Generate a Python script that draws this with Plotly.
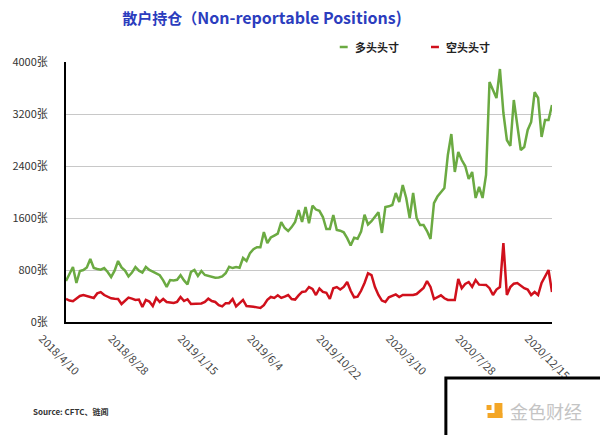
import pandas as pd
import plotly.graph_objects as go

# weekly COT data, 2018/4/10 .. 2020/12/15
dates = pd.date_range("2018-04-10", periods=141, freq="7D")

long_positions = [
    630, 750, 846, 600, 785, 800, 840, 970, 830, 815,
    805, 830, 770, 692, 790, 938, 840, 790, 700, 760,
    846, 790, 760, 846, 800, 775, 750, 720, 640, 540,
    646, 640, 650, 720, 640, 580, 770, 800, 708, 785,
    723, 705, 692, 680, 685, 700, 750, 850, 830, 846,
    835, 985, 940, 1060, 1120, 1150, 1150, 1384, 1215, 1300,
    1330, 1360, 1538, 1446, 1400, 1460, 1540, 1723, 1540, 1770,
    1520, 1790, 1730, 1710, 1615, 1430, 1430, 1646, 1415, 1405,
    1380, 1290, 1177, 1296, 1280, 1390, 1650, 1500, 1550, 1620,
    1690, 1370, 1770, 1780, 1800, 1985, 1846, 2108, 1908, 1600,
    1985, 1600, 1492, 1492, 1400, 1277, 1830, 1930, 2000, 2062,
    2570, 2892, 2308, 2615, 2492, 2400, 2200, 2308, 1908, 2077,
    1908, 2262, 3692, 3570, 3446, 3892, 3215, 2800, 2708, 3415,
    3030, 2646, 2692, 2954, 3077, 3538, 3446, 2846, 3108, 3108,
    3338,
]

short_positions = [
    354, 330, 320, 365, 400, 415, 400, 390, 370, 440,
    460, 415, 385, 365, 358, 354, 277, 330, 375, 360,
    340, 345, 230, 340, 315, 246, 370, 308, 354, 308,
    295, 292, 310, 385, 323, 350, 277, 277, 277, 285,
    308, 360, 323, 308, 260, 240, 290, 290, 354, 240,
    290, 340, 246, 246, 235, 225, 215, 260, 340, 385,
    370, 410, 370, 390, 415, 354, 345, 410, 462, 470,
    538, 510, 415, 515, 462, 450, 354, 520, 538, 500,
    540, 615, 480, 380, 390, 480, 600, 750, 720, 538,
    415, 330, 308, 380, 400, 425, 385, 415, 415, 415,
    415, 430, 470, 523, 630, 540, 354, 385, 410, 365,
    340, 340, 340, 661, 520, 585, 615, 540, 646, 575,
    570, 570, 520, 415, 500, 538, 1215, 415, 538, 590,
    600, 560, 520, 500, 415, 462, 415, 600, 692, 800,
    462,
]

series_names = ["多头头寸", "空头头寸"]
tick_dates = ["2018-04-10", "2018-08-28", "2019-01-15", "2019-06-04",
              "2019-10-22", "2020-03-10", "2020-07-28", "2020-12-15"]
tick_labels = ["2018/4/10", "2018/8/28", "2019/1/15", "2019/6/4",
               "2019/10/22", "2020/3/10", "2020/7/28", "2020/12/15"]
y_ticks = [0, 800, 1600, 2400, 3200, 4000]
y_tick_labels = ["0张", "800张", "1600张", "2400张", "3200张", "4000张"]

GREEN = "#6BAA42"
RED = "#D0101C"
FONT = "Noto Sans CJK SC"

fig = go.Figure()
fig.add_trace(go.Scatter(x=dates, y=long_positions, mode="lines", name=series_names[0],
                         line=dict(color=GREEN, width=2.5)))
fig.add_trace(go.Scatter(x=dates, y=short_positions, mode="lines", name=series_names[1],
                         line=dict(color=RED, width=2.5)))

W, H = 600, 435
L, R, T, B = 62, 48, 62, 113
pw, ph = W - L - R, H - T - B


def px(xp):
    return (xp - L) / pw


def py(yp):
    return (H - B - yp) / ph


fig.update_layout(
    width=W, height=H,
    margin=dict(l=L, r=R, t=T, b=B),
    paper_bgcolor="white", plot_bgcolor="white",
    showlegend=False,
    font=dict(family=FONT, color="#333333"),
    title=dict(
        text="<b><span style='font-size:15px'>散户持仓（</span>Non-reportable Positions)</b>",
        x=262 / W, xanchor="center", y=1 - 18 / H, yanchor="middle",
        font=dict(family=FONT, size=16, color="#2B3DBE"),
    ),
)

fig.update_xaxes(
    type="date",
    range=[dates[0], dates[-1]],
    tickvals=tick_dates, ticktext=tick_labels,
    tickangle=45, ticklabelshift=-24, ticklabelstandoff=4,
    tickfont=dict(size=11, color="#444444"),
    showgrid=False, zeroline=False,
    showline=True, linecolor="black", linewidth=2,
    ticks="",
)
fig.update_yaxes(
    range=[0, 4000], tickvals=y_ticks, ticktext=y_tick_labels,
    tickfont=dict(size=11, color="#333333"),
    showgrid=True, gridcolor="#C8C8C8", gridwidth=1,
    zeroline=False, showline=True, linecolor="black", linewidth=2,
    ticks="", ticklabelstandoff=14,
)

# legend (manual)
legend_items = [(338, series_names[0], GREEN), (430, series_names[1], RED)]
for xs, name, col in legend_items:
    fig.add_shape(type="line", xref="paper", yref="paper",
                  x0=px(xs), x1=px(xs + 8), y0=py(47), y1=py(47),
                  line=dict(color=col, width=2.5))
    fig.add_annotation(xref="paper", yref="paper", x=px(xs + 13), y=py(47),
                       text="<b>" + name + "</b>", showarrow=False,
                       xanchor="left", yanchor="middle",
                       font=dict(family=FONT, size=11, color="#222222"))

# source note
fig.add_annotation(xref="paper", yref="paper", x=px(27), y=py(411),
                   text="<b>Source: CFTC、链闻</b>", showarrow=False,
                   xanchor="left", yanchor="middle",
                   font=dict(family=FONT, size=8, color="#333333"))

# bottom-right logo box
fig.add_shape(type="rect", xref="paper", yref="paper", layer="above",
              x0=px(445), x1=px(604), y0=py(440), y1=py(378),
              line=dict(color="black", width=3), fillcolor="white")
fig.add_shape(type="rect", xref="paper", yref="paper", layer="above",
              x0=px(494), x1=px(502), y0=py(418), y1=py(403),
              line=dict(width=0), fillcolor="#F3A626")
fig.add_shape(type="rect", xref="paper", yref="paper", layer="above",
              x0=px(487), x1=px(502), y0=py(418), y1=py(413),
              line=dict(width=0), fillcolor="#F3A626")
fig.add_shape(type="rect", xref="paper", yref="paper", layer="above",
              x0=px(486), x1=px(491), y0=py(410), y1=py(405),
              line=dict(width=0), fillcolor="#F3A626")
fig.add_annotation(xref="paper", yref="paper", x=px(508), y=py(411),
                   text="金色财经", showarrow=False,
                   xanchor="left", yanchor="middle",
                   font=dict(family=FONT, size=18, color="#C4C4C4"))

fig.write_html("out.html",
               config={"displayModeBar": False},
               post_script="document.body.style.margin='0';document.body.style.overflow='hidden';")
